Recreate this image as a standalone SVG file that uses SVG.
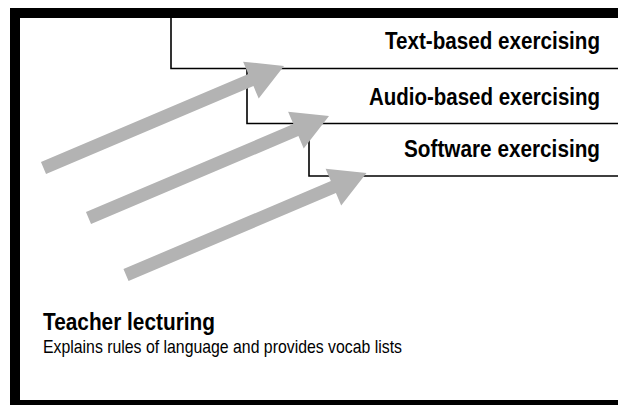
<svg xmlns="http://www.w3.org/2000/svg" width="618" height="405" viewBox="0 0 618 405">
  <style>
    .frame { fill: none; stroke: #000; stroke-width: 10; }
    .box { fill: none; stroke: #000; stroke-width: 1.6; }
    .lbl { font-family: "Liberation Sans Narrow", "Liberation Sans", Arial, sans-serif; font-weight: bold; font-size: 24px; fill: #000; }
    .title { font-family: "Liberation Sans Narrow", "Liberation Sans", Arial, sans-serif; font-weight: bold; font-size: 23px; fill: #000; }
    .sub { font-family: "Liberation Sans Narrow", "Liberation Sans", Arial, sans-serif; font-size: 19px; fill: #000; }
    .arrow { fill: #b3b3b3; stroke: none; }
  </style>
  <defs>
    <path id="bigArrow" d="M40.96,162.02 L248.36,74.12 L243.1,61.7 L284,66 L258.7,98.5 L253.44,86.08 L46.04,173.98 Z"/>
  </defs>
  <rect x="0" y="0" width="618" height="405" fill="#fff"/>
  <rect class="frame" x="15" y="13" width="700" height="392"/>

  <g id="text-based">
    <polyline class="box" points="171,18 171,68.5 618,68.5"/>
    <text class="lbl" transform="translate(385,49) scale(0.855,1)" x="0" y="0" textLength="251.5" lengthAdjust="spacingAndGlyphs">Text-based exercising</text>
  </g>
  <g id="audio-based">
    <polyline class="box" points="247,68.5 247,123.5 618,123.5"/>
    <text class="lbl" transform="translate(369,105) scale(0.855,1)" x="0" y="0" textLength="270.2" lengthAdjust="spacingAndGlyphs">Audio-based exercising</text>
  </g>
  <g id="software">
    <polyline class="box" points="309,123.5 309,176 618,176"/>
    <text class="lbl" transform="translate(404,157) scale(0.864,1)" x="0" y="0" textLength="226.9" lengthAdjust="spacingAndGlyphs">Software exercising</text>
  </g>
  <g id="teacher">
    <text class="title" x="43" y="330" textLength="172" lengthAdjust="spacingAndGlyphs">Teacher lecturing</text>
    <text class="sub" x="43" y="353" textLength="359" lengthAdjust="spacingAndGlyphs">Explains rules of language and provides vocab lists</text>
  </g>

  <g id="connectors">
    <use href="#bigArrow" class="arrow"/>
    <use href="#bigArrow" class="arrow" transform="translate(45,50)"/>
    <use href="#bigArrow" class="arrow" transform="translate(82.5,107)"/>
  </g>
</svg>
